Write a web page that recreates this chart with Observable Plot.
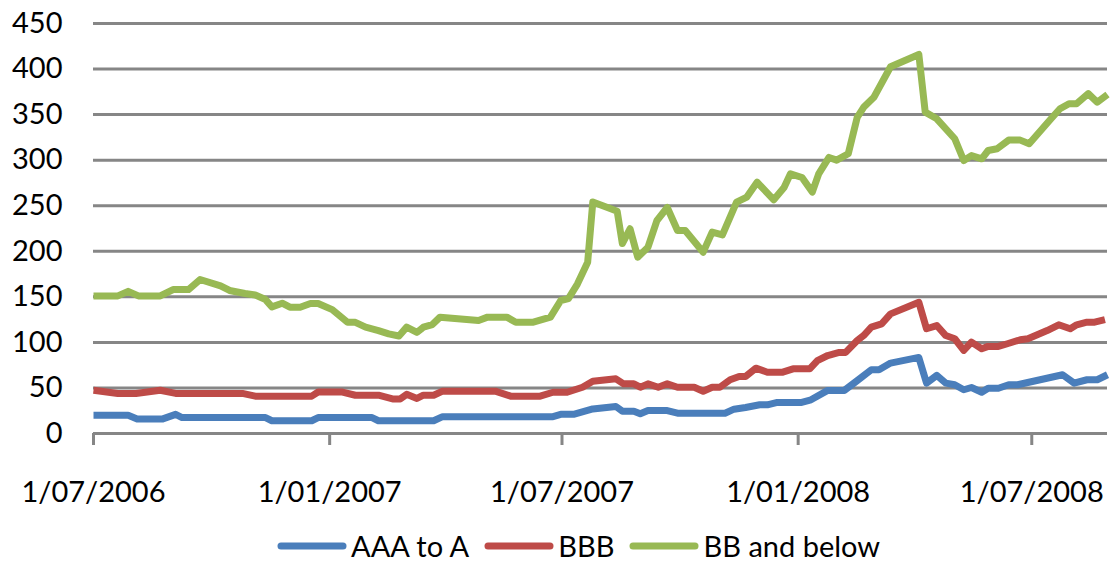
<!DOCTYPE html>
<html>
<head>
<meta charset="utf-8">
<script src="https://cdn.jsdelivr.net/npm/d3@7"></script>
<script src="https://cdn.jsdelivr.net/npm/@observablehq/plot@0.6"></script>
<style>
  html, body { margin: 0; padding: 0; background: #fff; }
  body { width: 1113px; height: 562px; overflow: hidden; font-family: Lato, "Open Sans", sans-serif; }
  #chart svg { display: block; }
  #legend { box-sizing: border-box; display: flex; align-items: center; height: 36px; padding-top: 4px; padding-left: 277px; font-size: 29px; line-height: 1.1; color: #000; }
  #legend .item { display: flex; align-items: center; margin-right: 15px; }
  #legend svg { margin-right: 4px; display: block; }
</style>
</head>
<body>
<div id="chart"></div>
<div id="legend"></div>
<script>
const seriesNames = ["AAA to A", "BBB", "BB and below"];
const seriesColors = ["#4A7EBB", "#BE4B48", "#98B954"];

const aaaDates = ["2006-07-01","2006-07-28","2006-08-04","2006-08-24","2006-09-03","2006-09-08","2006-11-12","2006-11-17","2006-12-18","2006-12-23","2007-02-03","2007-02-08","2007-03-23","2007-03-30","2007-06-24","2007-06-30","2007-07-10","2007-07-25","2007-08-12","2007-08-17","2007-08-26","2007-08-31","2007-09-06","2007-09-21","2007-09-29","2007-11-05","2007-11-12","2007-11-21","2007-12-02","2007-12-08","2007-12-15","2008-01-03","2008-01-11","2008-01-24","2008-02-06","2008-02-16","2008-02-27","2008-03-04","2008-03-13","2008-04-04","2008-04-10","2008-04-18","2008-04-25","2008-05-02","2008-05-09","2008-05-15","2008-05-23","2008-05-28","2008-06-05","2008-06-13","2008-06-20","2008-07-25","2008-08-03","2008-08-13","2008-08-21","2008-08-29"];
const aaaValues = [20,20,16,16,21,17.5,17.5,14,14,17.5,17.5,14,14,18.5,18.5,21,21,27,29.6,24.5,24.5,21.6,25.2,25.2,22.3,22.3,26.7,28.6,31.5,31.5,34,34,37,47.3,47.3,58,70,70,77.3,83.5,55.3,63.8,55.3,53.5,48,50.5,45.3,49.7,49.7,53.5,53.5,64.5,55.3,59,59,64.5];

const bbbDates = ["2006-07-01","2006-07-20","2006-08-03","2006-08-22","2006-09-03","2006-10-25","2006-11-04","2006-12-18","2006-12-23","2007-01-11","2007-01-21","2007-02-08","2007-02-19","2007-02-25","2007-03-02","2007-03-10","2007-03-15","2007-03-23","2007-03-30","2007-05-10","2007-05-22","2007-06-14","2007-06-24","2007-07-05","2007-07-17","2007-07-25","2007-08-12","2007-08-18","2007-08-26","2007-08-31","2007-09-06","2007-09-14","2007-09-21","2007-09-29","2007-10-12","2007-10-19","2007-10-26","2007-11-01","2007-11-09","2007-11-16","2007-11-21","2007-11-29","2007-12-08","2007-12-20","2007-12-28","2008-01-10","2008-01-16","2008-01-24","2008-02-02","2008-02-07","2008-02-16","2008-02-21","2008-02-27","2008-03-06","2008-03-13","2008-04-04","2008-04-10","2008-04-18","2008-04-25","2008-05-02","2008-05-09","2008-05-15","2008-05-23","2008-05-28","2008-06-05","2008-06-12","2008-06-22","2008-06-28","2008-07-13","2008-07-22","2008-07-31","2008-08-05","2008-08-13","2008-08-19","2008-08-27"];
const bbbValues = [47.5,44,44,47.5,44,44,41,41,45.5,45.5,42,42,38,38,43,38.5,42,42,46.5,46.5,41,41,45.3,45.3,50.8,57.4,60,54.5,54.5,50.8,54.5,50.8,54.5,50.8,50.8,46.4,50.8,50.8,59,62.6,62.6,71.7,67.3,67.3,71,71,80,85.6,89,89,102,107.5,116.7,120.4,131.3,144,115,118.5,107.5,104,91.2,100.3,93,95.6,95.6,98.5,102.9,104,113,119.3,115,119.3,122.2,122.2,125];

const bbDates = ["2006-07-01","2006-07-20","2006-07-28","2006-08-05","2006-08-22","2006-09-01","2006-09-13","2006-09-22","2006-10-08","2006-10-15","2006-10-27","2006-11-04","2006-11-12","2006-11-17","2006-11-25","2006-12-01","2006-12-09","2006-12-17","2006-12-23","2007-01-03","2007-01-15","2007-01-21","2007-01-29","2007-02-08","2007-02-16","2007-02-24","2007-03-02","2007-03-10","2007-03-15","2007-03-22","2007-03-28","2007-04-27","2007-05-04","2007-05-19","2007-05-26","2007-06-08","2007-06-22","2007-06-30","2007-07-06","2007-07-13","2007-07-21","2007-07-25","2007-08-08","2007-08-13","2007-08-17","2007-08-23","2007-08-29","2007-09-06","2007-09-13","2007-09-21","2007-09-29","2007-10-05","2007-10-19","2007-10-26","2007-11-03","2007-11-14","2007-11-22","2007-11-30","2007-12-13","2007-12-21","2007-12-26","2008-01-04","2008-01-12","2008-01-17","2008-01-25","2008-01-31","2008-02-09","2008-02-16","2008-02-21","2008-02-29","2008-03-13","2008-04-04","2008-04-09","2008-04-18","2008-05-02","2008-05-09","2008-05-15","2008-05-23","2008-05-28","2008-06-04","2008-06-13","2008-06-22","2008-06-29","2008-07-16","2008-07-23","2008-07-30","2008-08-05","2008-08-14","2008-08-21","2008-08-29"];
const bbValues = [151,151,156,151,151,158,158,169,162,157,153.6,152,147,139,143,138.6,138.6,142.7,142.7,136,122,122,116.7,113,109.4,107,116.7,111,116.7,119.6,127.7,124,127.7,127.7,122,122,127.7,146,148,164,188,254,246.6,244,208.5,224.7,193.5,204.5,233.8,248,222.8,222.8,199,221,218,254,259.5,275.8,256.5,270,285,281,265,285,303,300,307,347,358,369,402.5,416,352.7,345.4,323.5,299.6,305,301.5,310.6,312.5,322,322,318,345.4,356.4,362,362,373,363.6,372];

const yTicks = [0, 50, 100, 150, 200, 250, 300, 350, 400, 450];
const xTickLabels = ["2006-07-01", "2007-01-01", "2007-07-01", "2008-01-01", "2008-07-01"];
const xDomain = ["2006-07-01", "2008-08-29"];

const parse = d3.utcParse("%Y-%m-%d");
const toRows = (name, ds, vs) => ds.map((d, i) => ({series: name, date: parse(d), value: vs[i]}));
const rows = [
  ...toRows(seriesNames[0], aaaDates, aaaValues),
  ...toRows(seriesNames[1], bbbDates, bbbValues),
  ...toRows(seriesNames[2], bbDates, bbValues)
];
const fmt = d => `${d.getUTCDate()}/${String(d.getUTCMonth() + 1).padStart(2, "0")}/${d.getUTCFullYear()}`;

const chart = Plot.plot({
  width: 1113,
  height: 526,
  marginLeft: 93,
  marginRight: 6,
  marginTop: 23,
  marginBottom: 93,
  style: {fontFamily: "Lato, 'Open Sans', sans-serif", fontSize: "29px", color: "#000", background: "#fff"},
  x: {type: "utc", domain: xDomain.map(parse), label: null},
  y: {domain: [0, 450], label: null},
  color: {domain: seriesNames, range: seriesColors},
  marks: [
    Plot.ruleY(yTicks, {stroke: "#868686", strokeWidth: 3}),
    Plot.axisY({ticks: yTicks, tickSize: 0, tickPadding: 31, fontSize: 29, fill: "#000", label: null}),
    Plot.axisX({ticks: xTickLabels.map(parse), tickFormat: fmt, tickSize: 12, tickPadding: 36, stroke: "#868686", strokeWidth: 3, fontSize: 29, fill: "#000", label: null}),
    Plot.line(rows, {x: "date", y: "value", z: "series", stroke: "series", strokeWidth: 7, strokeLinejoin: "round", strokeLinecap: "butt"})
  ]
});
document.getElementById("chart").appendChild(chart);

const legend = document.getElementById("legend");
seriesNames.forEach((name, i) => {
  const item = document.createElement("div");
  item.className = "item";
  item.innerHTML = `<svg width="70" height="10"><line x1="4" y1="5" x2="66" y2="5" stroke="${seriesColors[i]}" stroke-width="7" stroke-linecap="round"/></svg><span>${name}</span>`;
  legend.appendChild(item);
});
</script>
</body>
</html>
